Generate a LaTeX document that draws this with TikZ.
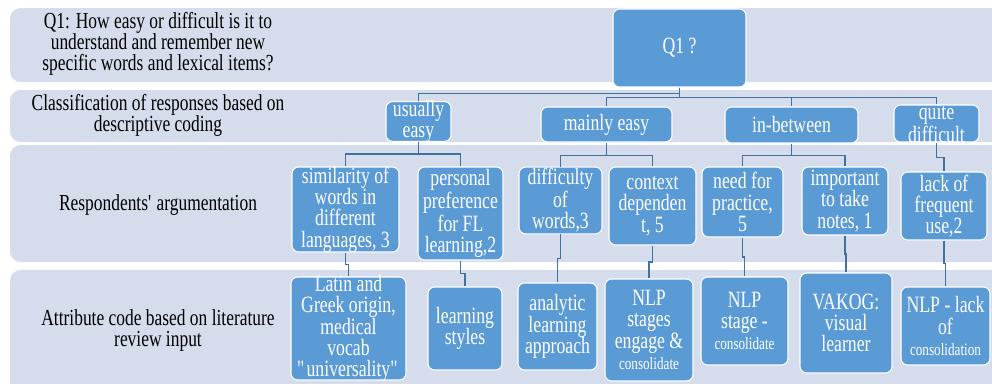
\documentclass[tikz,border=0pt]{standalone}
\usepackage{fontspec}
\setmainfont[FakeStretch=0.76]{Liberation Serif}
\usetikzlibrary{calc}
\definecolor{bandgrey}{HTML}{D5DDEC}
\definecolor{boxblue}{HTML}{5B9BD5}
\definecolor{linkblue}{HTML}{41719C}
\tikzset{
  band/.style={fill=bandgrey, rounded corners=8pt},
  rowlabel/.style={align=center, font=\fontsize{17.2}{15.75}\selectfont},
  box/.style={rectangle, rounded corners=5pt, fill=boxblue, draw=white, line width=0.8pt,
    text=white, align=center, inner sep=1pt, font=\fontsize{17.5}{16}\selectfont},
  link/.style={draw=linkblue, line width=1.1pt},
  elbow/.style={to path={|- ($(\tikztostart)!0.5!(\tikztotarget)$) -| (\tikztotarget)}}
}
\newcommand{\smalltxt}[1]{{\fontsize{13}{14}\selectfont #1}}
\begin{document}
\begin{tikzpicture}[x=0.75pt,y=-0.75pt]
\useasboundingbox (0,0) rectangle (992,383);
\clip (0,0) rectangle (992,383);
% rows
\fill[band] (10,8) rectangle (1010,82);
\fill[band] (10,90) rectangle (1010,142);
\fill[band] (10,145) rectangle (1010,262);
\fill[band] (10,270) rectangle (1010,400);
\node[rowlabel] (lab1) at (158,44) {Q1: How easy or difficult is it to\\understand and remember new\\specific words and lexical items?};
\node[rowlabel] (lab2) at (158,115) {Classification of responses based on\\descriptive coding};
\node[rowlabel] (lab3) at (158,205) {Respondents\textquotesingle\ argumentation};
\node[rowlabel] (lab4) at (158,330) {Attribute code based on literature\\review input};
% question
\node[box, minimum width=99.75pt, minimum height=58.5pt] (q1) at (679.5,48) {Q1 ?};
% classification
\node[box, inner ysep=-1pt, minimum width=48.75pt, minimum height=29.25pt] (usually) at (418.5,121.5) {usually\\easy};
\node[box, minimum width=98.25pt, minimum height=26.25pt] (mainly) at (606.5,124.5) {mainly easy};
\node[box, minimum width=99.75pt, minimum height=27pt] (inbetween) at (791.5,125) {in-between};
\node[box, inner ysep=-1pt, minimum width=63.75pt, minimum height=27.75pt] (quite) at (936.5,123.5) {quite\\difficult};
% argumentation
\node[box, inner ysep=-1pt, minimum width=80.25pt, minimum height=63.75pt] (simil) at (345.5,209.5) {similarity of\\words in\\different\\languages, 3};
\node[box, minimum width=63.75pt, minimum height=69.75pt] (prefer) at (460.5,213.5) {personal\\preference\\for FL\\learning,2};
\node[box, minimum width=62.25pt, minimum height=48.75pt] (diffic) at (560.5,200.5) {difficulty\\of\\words,3};
\node[box, minimum width=65.25pt, minimum height=58.5pt] (context) at (652.5,206) {context\\dependen\\t, 5};
\node[box, minimum width=60.75pt, minimum height=52.5pt] (practice) at (742.5,202) {need for\\practice,\\5};
\node[box, minimum width=64.5pt, minimum height=51pt] (notes) at (845,201) {important\\to take\\notes, 1};
\node[box, minimum width=64.5pt, minimum height=51pt] (frequent) at (944,206) {lack of\\frequent\\use,2};
% attribute codes
\node[box, inner ysep=-2pt, minimum width=86.25pt, minimum height=77.25pt] (latin) at (348.5,328.5) {Latin and\\Greek origin,\\medical\\vocab\\\textquotedbl universality\textquotedbl};
\node[box, minimum width=55.5pt, minimum height=62.25pt] (styles) at (465,328.5) {learning\\styles};
\node[box, minimum width=59.25pt, minimum height=65.25pt] (analytic) at (557.5,326.5) {analytic\\learning\\approach};
\node[box, inner ysep=-1pt, minimum width=66pt, minimum height=76.5pt] (engage) at (649,330) {NLP\\stages\\engage \&\\\smalltxt{consolidate}};
\node[box, minimum width=65.25pt, minimum height=66pt] (stage) at (744.5,321) {NLP\\stage -\\\smalltxt{consolidate}};
\node[box, minimum width=69pt, minimum height=75pt] (vakog) at (846,323) {VAKOG:\\visual\\learner};
\node[box, minimum width=66.75pt, minimum height=58.5pt] (nlplack) at (945.5,326) {NLP - lack\\of\\\smalltxt{consolidation}};
% links
\draw[link] (q1.south) -- ++(0,6) -| (usually.north);
\draw[link] (q1.south) -- ++(0,10) -| (mainly.north);
\draw[link] (q1.south) -- ++(0,10) -| (inbetween.north);
\draw[link] (q1.south) -- ++(0,10) -| (quite.north);
\draw[link] (usually.south) -- ++(0,12) -| (simil.north);
\draw[link] (usually.south) -- ++(0,12) -| (prefer.north);
\draw[link] (mainly.south) -- ++(0,13) -| (diffic.north);
\draw[link] (mainly.south) -- ++(0,13) -| (context.north);
\draw[link] (inbetween.south) -- ++(0,12) -| (practice.north);
\draw[link] (inbetween.south) -- ++(0,12) -| (notes.north);
\draw[link] (quite.south) -- ++(0,15) -| (frequent.north);
\draw[link] (simil.south) to[elbow] (latin.north);
\draw[link] (prefer.south) to[elbow] (styles.north);
\draw[link] (diffic.south) to[elbow] (analytic.north);
\draw[link] (context.south) to[elbow] (engage.north);
\draw[link] (practice.south) to[elbow] (stage.north);
\draw[link] (notes.south) to[elbow] (vakog.north);
\draw[link] (frequent.south) to[elbow] (nlplack.north);
\end{tikzpicture}
\end{document}
